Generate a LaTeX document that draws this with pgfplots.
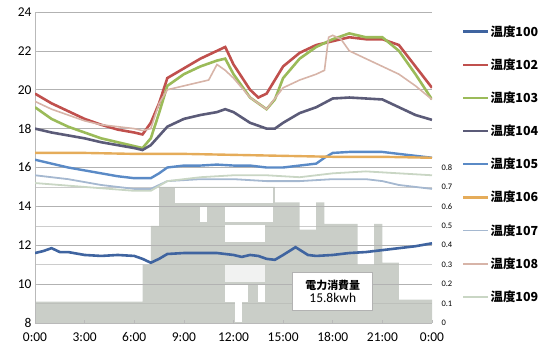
\documentclass[border=0pt]{standalone}
\usepackage{fontspec}
\setmainfont{Carlito}
\newfontfamily\cjk{Noto Sans CJK JP}
\usepackage{pgfplots}
\pgfplotsset{compat=1.18}
\usepackage{pgfplotstable}

\definecolor{c100}{HTML}{3F64A0}
\definecolor{c102}{HTML}{C0504D}
\definecolor{c103}{HTML}{9BBB59}
\definecolor{c104}{HTML}{5B5B78}
\definecolor{c105}{HTML}{5A8AC6}
\definecolor{c106}{HTML}{E5AC5A}
\definecolor{c107}{HTML}{A5B8D0}
\definecolor{c108}{HTML}{D7B4A8}
\definecolor{c109}{HTML}{C9D6C4}
\definecolor{barcol}{HTML}{B8BDB6}

% power consumption (kW), step values from each start time
\pgfplotstableread{
t kw
0 0.11
6.5 0.30
7 0.50
7.5 0.70
14.5 0.62
16 0.48
17 0.62
17.5 0.51
19.5 0.30
20.5 0.51
21 0.31
22 0.12
24 0.12
}\power

\pgfplotstableread{
t T
0 11.6
0.5 11.7
1 11.85
1.5 11.65
2 11.65
3 11.5
4 11.45
5 11.5
6 11.45
6.5 11.3
7 11.1
7.5 11.3
8 11.55
9 11.6
10 11.6
11 11.6
12 11.5
12.5 11.4
13 11.5
13.5 11.45
14 11.3
14.5 11.25
15 11.5
15.75 11.9
16.5 11.5
17 11.45
18 11.5
19 11.6
20 11.65
21 11.75
22 11.85
23 11.95
24 12.1
}\tA

\pgfplotstableread{
t T
0 19.8
1 19.3
2 18.9
3 18.5
4 18.2
5 17.95
6 17.8
6.5 17.7
7 18.3
7.5 19.3
8 20.6
9 21.1
10 21.6
11 22.0
11.5 22.2
12 21.3
13 20.0
13.5 19.6
14 19.8
14.5 20.5
15 21.2
16 21.9
17 22.3
18 22.5
19 22.7
20 22.6
21 22.6
22 22.3
23 21.2
24 20.1
}\tB

\pgfplotstableread{
t T
0 19.1
1 18.5
2 18.1
3 17.8
4 17.5
5 17.3
6 17.1
6.5 17.0
7 17.5
7.5 18.8
8 20.2
9 20.8
10 21.2
11 21.5
11.5 21.6
12 20.8
13 19.6
14 19.0
14.5 19.5
15 20.6
16 21.6
17 22.2
18 22.6
19 22.9
20 22.7
21 22.7
22 22.0
23 20.8
24 19.5
}\tC

\pgfplotstableread{
t T
0 18.0
1 17.8
2 17.65
3 17.5
4 17.3
5 17.15
6 17.0
6.5 16.9
7 17.15
8 18.1
9 18.5
10 18.7
11 18.85
11.5 19.0
12 18.85
13 18.3
14 18.0
14.5 18.0
15 18.3
16 18.8
17 19.1
18 19.55
19 19.6
20 19.55
21 19.5
22 19.1
23 18.7
24 18.45
}\tD

\pgfplotstableread{
t T
0 16.4
1 16.2
2 16.0
3 15.85
4 15.7
5 15.55
6 15.45
7 15.45
7.5 15.7
8 16.0
9 16.1
10 16.1
11 16.15
12 16.1
13 16.1
14 16.0
15 16.0
16 16.1
17 16.2
17.5 16.5
18 16.75
19 16.8
20 16.8
21 16.8
22 16.7
23 16.6
24 16.5
}\tE

\pgfplotstableread{
t T
0 16.75
3 16.75
6 16.7
9 16.7
12 16.65
15 16.6
18 16.55
21 16.55
24 16.5
}\tF

\pgfplotstableread{
t T
0 15.6
2 15.4
4 15.1
6 14.9
7 14.9
8 15.3
10 15.4
12 15.4
14 15.3
16 15.3
18 15.4
20 15.4
21 15.3
22 15.1
24 14.9
}\tG

\pgfplotstableread{
t T
0 19.4
1 19.0
2 18.7
3 18.4
4 18.2
5 18.1
6 18.0
6.5 17.9
7 18.0
7.5 19.3
8 20.0
9 20.2
10 20.4
10.5 20.5
11 21.3
11.5 21.0
12 20.6
13 19.6
14 19.0
15 20.1
16 20.5
17 20.8
17.5 21.0
17.75 22.7
18 22.8
18.5 22.6
19 22.0
20 21.6
21 21.2
22 20.8
23 20.2
24 19.5
}\tH

\pgfplotstableread{
t T
0 15.2
3 15.0
6 14.8
7 14.8
8 15.3
10 15.5
12 15.6
14 15.6
16 15.5
18 15.7
20 15.8
22 15.7
24 15.6
}\tI

\begin{document}
\begin{tikzpicture}
\useasboundingbox (-35bp,-38bp) rectangle (506bp,323bp);

% power consumption on the right-hand scale
\begin{axis}[
  at={(0,0)}, anchor=south west,
  scale only axis, width=397bp, height=311bp,
  xmin=0, xmax=24, ymin=0, ymax=1.6,
  axis x line=none,
  axis y line*=right, y axis line style={draw=none},
  ytick={0,0.1,0.2,0.3,0.4,0.5,0.6,0.7,0.8},
  yticklabel style={font=\fontsize{8.5}{9}\selectfont, xshift=6bp},
  /pgf/number format/assume math mode=true,
  major tick length=0pt,
  ymajorgrids, grid style={gray!40, line width=0.5bp},
]
\addplot[const plot, fill=barcol, fill opacity=0.75, draw=none] table[x=t, y=kw] {\power} \closedcycle;
\end{axis}

% room temperatures on the left-hand scale
\begin{axis}[
  at={(0,0)}, anchor=south west,
  scale only axis, width=397bp, height=311bp,
  xmin=0, xmax=24, ymin=8, ymax=24,
  axis x line*=bottom, axis y line*=left,
  axis line style={-, draw=gray!55, line width=0.6bp},
  xtick={0,3,...,24},
  xticklabels={0:00,3:00,6:00,9:00,12:00,15:00,18:00,21:00,0:00},
  ytick={8,10,...,24},
  tick style={draw=gray!55, line width=0.6bp},
  major tick length=3bp,
  ticklabel style={font=\fontsize{13.5}{14}\selectfont},
  xticklabel style={yshift=-6bp},
  /pgf/number format/assume math mode=true,
  ymajorgrids, grid style={gray!60, line width=0.6bp},
  legend style={at={(1.075,0.96)}, anchor=north west, draw=none, fill=none,
    font=\cjk\bfseries\fontsize{12.5}{13}\selectfont, row sep=19bp,
    inner sep=0pt, nodes={inner sep=1bp}},
  legend cell align=left,
  legend image code/.code={\draw[#1] (0bp,0bp) -- (25bp,0bp);},
]
% blank label boxes over the power area
\fill[white] (axis cs:8.46,14.15) rectangle (axis cs:14.4,14.97);
\fill[white] (axis cs:9.98,13.18) rectangle (axis cs:10.4,13.95);
\fill[white] (axis cs:11.49,13.18) rectangle (axis cs:14.39,13.95);
\fill[white] (axis cs:11.49,12.15) rectangle (axis cs:13.9,13.03);
\fill[white, opacity=0.75] (axis cs:11.49,10.1) rectangle (axis cs:13.9,11.0);
\fill[white] (axis cs:11.49,9.08) rectangle (axis cs:12.88,9.95);
\fill[white] (axis cs:13.48,9.08) rectangle (axis cs:13.9,9.95);
\fill[white] (axis cs:12.1,8.05) rectangle (axis cs:12.5,9.08);

\addplot[c100, line width=2.6bp] table[x=t, y=T] {\tA};
\addlegendentry{温度100}
\addplot[c102, line width=2.6bp] table[x=t, y=T] {\tB};
\addlegendentry{温度102}
\addplot[c103, line width=2.6bp] table[x=t, y=T] {\tC};
\addlegendentry{温度103}
\addplot[c104, line width=2.6bp] table[x=t, y=T] {\tD};
\addlegendentry{温度104}
\addplot[c105, line width=2.4bp] table[x=t, y=T] {\tE};
\addlegendentry{温度105}
\addplot[c106, line width=2.4bp] table[x=t, y=T] {\tF};
\addlegendentry{温度106}
\addplot[c107, line width=1.8bp] table[x=t, y=T] {\tG};
\addlegendentry{温度107}
\addplot[c108, line width=1.6bp] table[x=t, y=T] {\tH};
\addlegendentry{温度108}
\addplot[c109, line width=1.8bp] table[x=t, y=T] {\tI};
\addlegendentry{温度109}

\node[draw=gray!60, fill=white, line width=0.8bp, minimum width=80bp,
  minimum height=38bp, align=center, inner sep=2bp]
  at (axis cs:18,9.64)
  {{\cjk\bfseries\fontsize{11}{12}\selectfont 電力消費量}\\[1bp]
   {\fontsize{13.5}{14}\selectfont 15.8kwh}};
\end{axis}
\end{tikzpicture}
\end{document}
